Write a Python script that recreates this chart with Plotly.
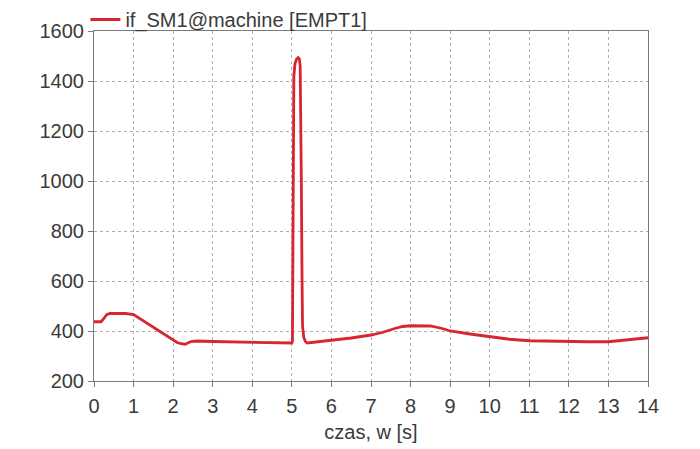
import plotly.graph_objects as go

# time [s]
t = [0, 0.18, 0.25, 0.32, 0.4, 0.6, 0.8, 1.0, 1.2, 1.5, 1.8, 2.1, 2.2, 2.3, 2.45, 2.6,
     3.0, 3.5, 4.0, 4.5, 5.0, 5.015, 5.025, 5.035, 5.05, 5.08, 5.12, 5.16, 5.19, 5.21,
     5.225, 5.24, 5.255, 5.27, 5.3, 5.34, 5.39, 5.5, 5.8, 6.0, 6.5, 7.0, 7.3, 7.6, 7.8,
     8.0, 8.3, 8.5, 8.8, 9.0, 9.5, 10.0, 10.5, 11.0, 11.5, 12.0, 12.5, 13.0, 13.5, 14.0]
# field current if_SM1
i_f = [437, 437, 450, 465, 470, 471, 470, 466, 446, 415, 385, 354, 349, 347, 358, 360,
       358, 356, 354, 353, 352, 360, 700, 1200, 1420, 1470, 1488, 1494, 1488, 1460,
       1300, 1000, 650, 420, 375, 358, 352, 354, 359, 364, 372, 384, 395, 410, 418,
       421, 422, 420, 410, 400, 388, 376, 367, 361, 359, 358, 357, 357, 364, 373]

x_ticks = list(range(0, 15))
y_ticks = list(range(200, 1601, 200))

font_family = "Liberation Sans, Arial, sans-serif"
txt = "#3a3a3a"
fs = 20

fig = go.Figure()
fig.add_trace(go.Scatter(
    x=t, y=i_f, mode="lines", name="if_SM1@machine [EMPT1]",
    line=dict(color="#d7262e", width=2.8),
))

axis_common = dict(
    showline=True, linecolor="#7a7a7a", linewidth=1, mirror=True,
    showgrid=True, gridcolor="#b0b0b0", griddash="3px,3px", gridwidth=1,
    ticks="outside", ticklen=5, tickcolor="#7a7a7a",
    tickfont=dict(family=font_family, size=fs, color=txt),
    zeroline=False,
)

fig.update_layout(
    width=700, height=449,
    margin=dict(l=94, r=52, t=31, b=68, autoexpand=False),
    paper_bgcolor="white", plot_bgcolor="white",
    font=dict(family=font_family, color=txt),
    showlegend=True,
    legend=dict(x=0.122, xref="container", y=1.003, yref="container",
                xanchor="left", yanchor="top",
                font=dict(family=font_family, size=fs, color=txt),
                bgcolor="rgba(0,0,0,0)", itemwidth=30),
    xaxis=dict(range=[0, 14], tickvals=x_ticks, ticktext=[str(v) for v in x_ticks],
               ticklabelstandoff=2,
               title=dict(text="czas, w [s]", font=dict(family=font_family, size=fs, color=txt),
                          standoff=8),
               **axis_common),
    yaxis=dict(range=[200, 1600], tickvals=y_ticks, ticktext=[str(v) for v in y_ticks],
               **axis_common),
)

fig.write_html("out.html")
